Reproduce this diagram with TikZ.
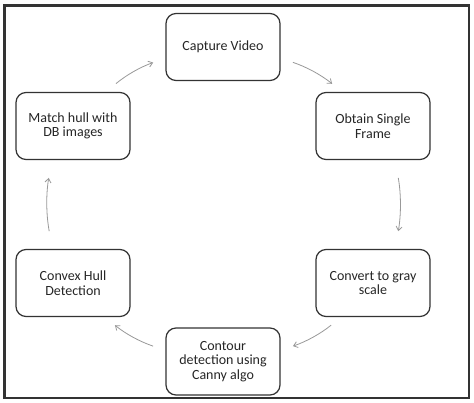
\documentclass[tikz,border=0pt]{standalone}
\usepackage{fontspec}
\setmainfont{Carlito}
\usetikzlibrary{arrows.meta}
\definecolor{boxline}{HTML}{333333}
\definecolor{flowgray}{HTML}{999999}
\definecolor{textgray}{HTML}{262626}
\tikzset{
  stepbox/.style={draw=boxline, line width=1.2pt, rounded corners=10pt, minimum width=114pt, minimum height=67pt, align=center, text=textgray, font=\fontsize{14}{14.5}\selectfont},
  flow/.style={draw=flowgray, line width=0.8pt, -{Straight Barb[length=4pt,width=6pt]}}
}
\begin{document}
\begin{tikzpicture}[x=1pt,y=1pt]
\useasboundingbox (0,0) rectangle (474,402);
\fill[white] (0,0) rectangle (474,402);
\draw[black!80, line width=2.2pt] (4.5,4) rectangle (469,396.5);
\node[stepbox] (capture) at (223,355) {Capture Video};
\node[stepbox] (frame) at (373,276) {Obtain Single\\Frame};
\node[stepbox] (gray) at (373,119) {Convert to gray\\scale};
\node[stepbox] (contour) at (223,40.5) {Contour\\detection using\\Canny algo};
\node[stepbox] (hull) at (73,119) {Convex Hull\\Detection};
\node[stepbox] (match) at (73,276) {Match hull with\\DB images};
\foreach \a/\b/\s in {capture.-11/frame.132/13, frame.-57/gray.57/18, gray.227/contour.11/13, contour.169/hull.-47/13, hull.121/match.238/18, match.46/capture.191/13}
  {\draw[flow, shorten <=\s pt, shorten >=\s pt] (\a) to[bend left=10] (\b);}
\end{tikzpicture}
\end{document}
